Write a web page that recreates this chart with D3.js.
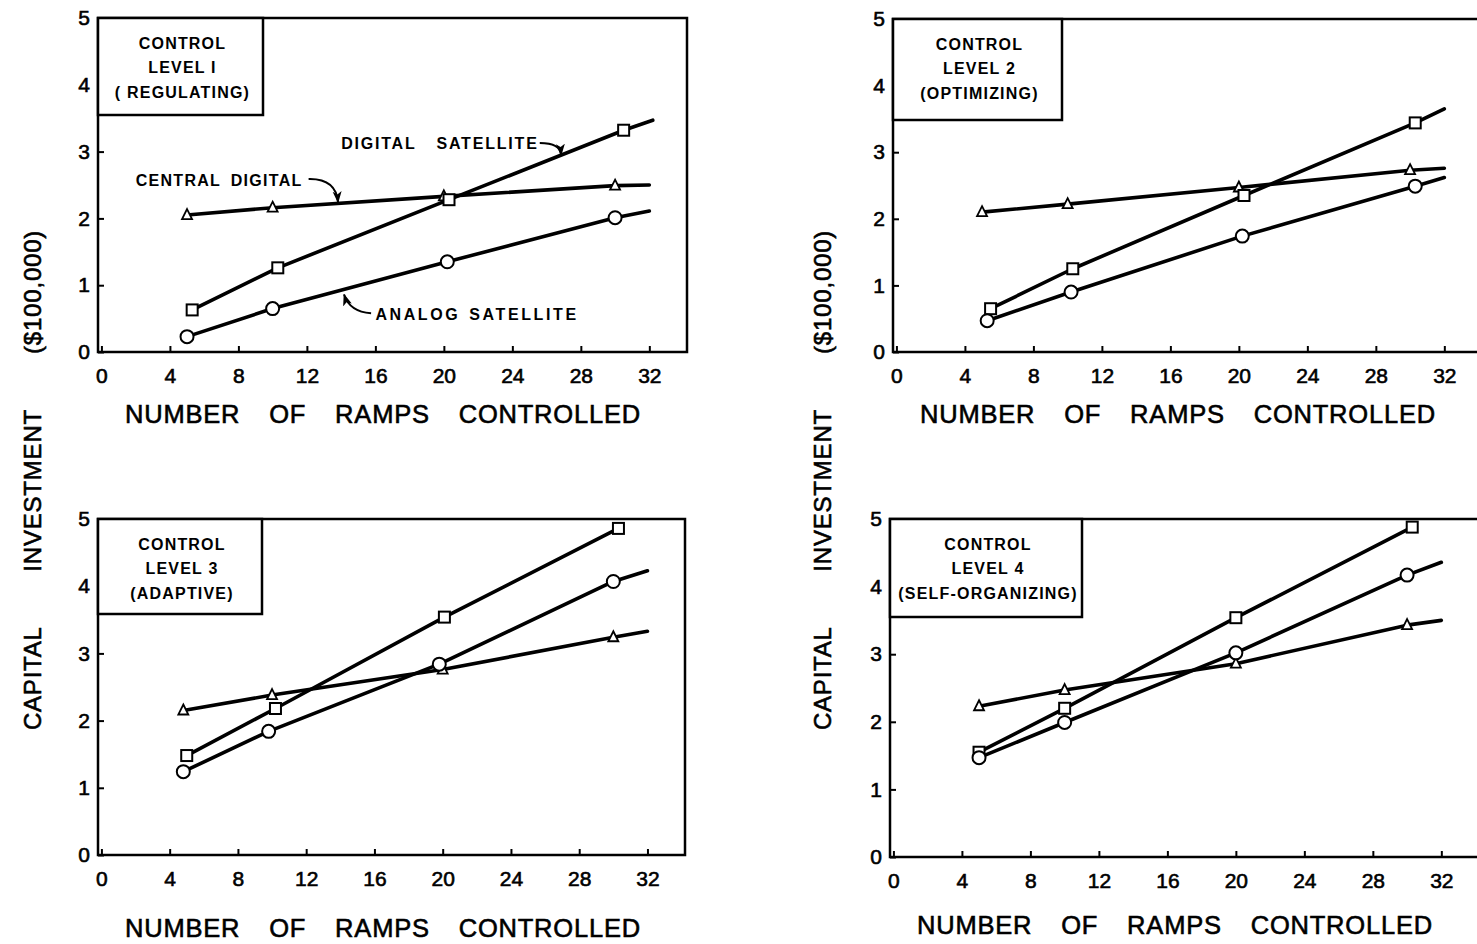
<!DOCTYPE html>
<html>
<head>
<meta charset="utf-8">
<title>capital investment vs ramps controlled</title>
<script src="https://cdn.jsdelivr.net/npm/d3@7"></script>
<style>
  body { margin: 0; background: #fff; }
  svg text { font-family: "Liberation Sans", Arial, sans-serif; fill: #000; }
</style>
</head>
<body>
<svg id="chart" width="1477" height="944"></svg>
<script>
// values
var xTicks = [0, 4, 8, 12, 16, 20, 24, 28, 32];
var yTicks = [0, 1, 2, 3, 4, 5];
var xTitle = "NUMBER OF RAMPS CONTROLLED";
var yTitle = "CAPITAL INVESTMENT ($100,000)";
var boxText = [
  ["CONTROL", "LEVEL I", "( REGULATING)"],
  ["CONTROL", "LEVEL 2", "(OPTIMIZING)"],
  ["CONTROL", "LEVEL 3", "(ADAPTIVE)"],
  ["CONTROL", "LEVEL 4", "(SELF-ORGANIZING)"]
];

// central digital (triangles), one array per control level
var central = [
  [[5, 2.05], [10, 2.16], [20, 2.33], [30, 2.49]],
  [[5, 2.10], [10, 2.22], [20, 2.47], [30, 2.73]],
  [[4.8, 2.15], [10, 2.38], [20, 2.76], [30, 3.24]],
  [[5, 2.23], [10, 2.47], [20, 2.86], [30, 3.43]]
];
var centralEnd = [[32, 2.50], [32, 2.76], [32, 3.33], [32, 3.50]];

// digital satellite (squares)
var digitalSat = [
  [[5.3, 0.63], [10.3, 1.26], [20.3, 2.28], [30.5, 3.32]],
  [[5.5, 0.65], [10.3, 1.25], [20.3, 2.35], [30.3, 3.44]],
  [[5, 1.48], [10.2, 2.18], [20.1, 3.54], [30.3, 4.86]],
  [[5, 1.55], [10, 2.20], [20, 3.54], [30.3, 4.88]]
];
var digitalSatEnd = [[32.2, 3.47], [32, 3.65], null, null];

// analog satellite (circles)
var analogSat = [
  [[5, 0.23], [10, 0.65], [20.2, 1.35], [30, 2.01]],
  [[5.3, 0.47], [10.2, 0.90], [20.2, 1.74], [30.3, 2.49]],
  [[4.8, 1.24], [9.8, 1.84], [19.8, 2.84], [30, 4.07]],
  [[5, 1.47], [10, 1.99], [20, 3.02], [30, 4.17]]
];
var analogSatEnd = [[32, 2.11], [32, 2.62], [32, 4.23], [32, 4.36]];

// labels with arrows in the first panel (data coordinates)
var notes = [
  {text: "DIGITAL SATELLITE", at: [14.0, 3.13], ls: 1.8, gap: 14, arrow: [[25.6, 3.13], [26.8, 3.13], [26.85, 2.95]]},
  {text: "CENTRAL DIGITAL", at: [2.0, 2.57], ls: 1.3, gap: 4, arrow: [[12.1, 2.59], [13.7, 2.60], [13.82, 2.24]]},
  {text: "ANALOG SATELLITE", at: [16.0, 0.57], ls: 2.6, gap: 2, arrow: [[15.75, 0.58], [14.5, 0.60], [14.17, 0.86]]}
];

// panel layout
var panels = [
  {left: 98, top: 18, width: 589, height: 334, boxW: 165, boxH: 97, titleY: 62},
  {left: 893, top: 19, width: 589, height: 333, boxW: 169, boxH: 101, titleY: 62},
  {left: 98, top: 519, width: 587, height: 336, boxW: 164, boxH: 95, titleY: 73},
  {left: 890, top: 519, width: 589, height: 338, boxW: 192, boxH: 98, titleY: 68}
];

var svg = d3.select("#chart");

svg.append("defs").append("marker")
  .attr("id", "head")
  .attr("viewBox", "0 -5 12 10")
  .attr("refX", 11).attr("refY", 0)
  .attr("markerWidth", 12).attr("markerHeight", 10)
  .attr("markerUnits", "userSpaceOnUse")
  .attr("orient", "auto")
  .append("path")
  .attr("d", "M0,-4.5L12,0L0,4.5L3,0Z")
  .attr("fill", "#000");

// thicken the plain text a little, like the lettering guide strokes
function inked(sel, w) {
  return sel.attr("stroke", "#000").attr("stroke-width", w).attr("paint-order", "stroke");
}

panels.forEach(function(p, i) {
  var g = svg.append("g");
  var x = d3.scaleLinear().domain([-0.2, 34.2]).range([p.left, p.left + p.width]);
  var y = d3.scaleLinear().domain([0, 5]).range([p.top + p.height, p.top]);

  // x axis: inward ticks, labels below
  var ax = g.append("g")
    .attr("transform", "translate(0," + (p.top + p.height) + ")")
    .call(d3.axisBottom(x).tickValues(xTicks).tickFormat(d3.format("d"))
      .tickSizeInner(-6).tickSizeOuter(0).tickPadding(16));
  ax.select(".domain").remove();
  ax.selectAll("line").attr("stroke-width", 2);
  inked(ax.selectAll("text").attr("font-size", 21).attr("font-family", "Liberation Sans, Arial, sans-serif"), 0.6);

  var ay = g.append("g")
    .attr("transform", "translate(" + p.left + ",0)")
    .call(d3.axisLeft(y).tickValues(yTicks).tickFormat(d3.format("d"))
      .tickSizeInner(-6).tickSizeOuter(0).tickPadding(8));
  ay.select(".domain").remove();
  ay.selectAll("line").attr("stroke-width", 2);
  inked(ay.selectAll("text").attr("font-size", 21).attr("font-family", "Liberation Sans, Arial, sans-serif"), 0.6);

  // frame
  g.append("rect")
    .attr("x", p.left).attr("y", p.top)
    .attr("width", p.width).attr("height", p.height)
    .attr("fill", "none").attr("stroke", "#000").attr("stroke-width", 2.5);

  // series lines
  var line = d3.line().x(function(d) { return x(d[0]); }).y(function(d) { return y(d[1]); });
  var series = [
    {pts: central[i], end: centralEnd[i], shape: "tri"},
    {pts: digitalSat[i], end: digitalSatEnd[i], shape: "sq"},
    {pts: analogSat[i], end: analogSatEnd[i], shape: "ci"}
  ];
  series.forEach(function(s) {
    var path = s.end ? s.pts.concat([s.end]) : s.pts;
    g.append("path")
      .attr("d", line(path))
      .attr("fill", "none").attr("stroke", "#000")
      .attr("stroke-width", 3.6).attr("stroke-linecap", "round").attr("stroke-linejoin", "round");
  });
  series.forEach(function(s) {
    s.pts.forEach(function(d) {
      var cx = x(d[0]), cy = y(d[1]);
      if (s.shape === "sq") {
        g.append("rect").attr("x", cx - 5.5).attr("y", cy - 5.5).attr("width", 11).attr("height", 11)
          .attr("fill", "#fff").attr("stroke", "#000").attr("stroke-width", 2);
      } else if (s.shape === "ci") {
        g.append("circle").attr("cx", cx).attr("cy", cy).attr("r", 6.5)
          .attr("fill", "#fff").attr("stroke", "#000").attr("stroke-width", 2);
      } else {
        g.append("path").attr("d", "M0,-6L5,4L-5,4Z")
          .attr("transform", "translate(" + cx + "," + cy + ")")
          .attr("fill", "#fff").attr("stroke", "#000").attr("stroke-width", 1.8);
      }
    });
  });

  // level box
  g.append("rect")
    .attr("x", p.left).attr("y", p.top)
    .attr("width", p.boxW).attr("height", p.boxH)
    .attr("fill", "#fff").attr("stroke", "#000").attr("stroke-width", 2.5);
  boxText[i].forEach(function(t, k) {
    g.append("text")
      .attr("x", p.left + p.boxW / 2 + 2)
      .attr("y", p.top + 25 + k * 24.5)
      .attr("dy", "0.35em")
      .attr("text-anchor", "middle")
      .attr("font-size", 16).attr("font-weight", "bold")
      .attr("letter-spacing", 1.2)
      .style("white-space", "pre")
      .text(t);
  });

  // x title
  inked(g.append("text")
    .attr("x", p.left + 285)
    .attr("y", p.top + p.height + p.titleY)
    .attr("dy", "0.35em")
    .attr("text-anchor", "middle")
    .attr("font-size", 25.5)
    .attr("letter-spacing", 0.8)
    .attr("word-spacing", 21)
    .text(xTitle), 0.6);

  if (i === 0) {
    notes.forEach(function(n) {
      g.append("text")
        .attr("x", x(n.at[0])).attr("y", y(n.at[1]))
        .attr("dy", "0.35em")
        .attr("font-size", 16).attr("font-weight", "bold")
        .attr("letter-spacing", n.ls)
        .attr("word-spacing", n.gap)
        .text(n.text);
      var a = n.arrow;
      g.append("path")
        .attr("d", "M" + x(a[0][0]) + "," + y(a[0][1]) + "Q" + x(a[1][0]) + "," + y(a[1][1]) + " " + x(a[2][0]) + "," + y(a[2][1]))
        .attr("fill", "none").attr("stroke", "#000").attr("stroke-width", 2)
        .attr("marker-end", "url(#head)");
    });
  }
});

// shared y titles, one per column
[33, 823].forEach(function(cx) {
  inked(svg.append("text")
    .attr("transform", "translate(" + cx + ",480) rotate(-90)")
    .attr("dy", "0.35em")
    .attr("text-anchor", "middle")
    .attr("font-size", 24)
    .attr("letter-spacing", 0.8)
    .attr("word-spacing", 48)
    .text(yTitle), 0.6);
});
</script>
</body>
</html>
